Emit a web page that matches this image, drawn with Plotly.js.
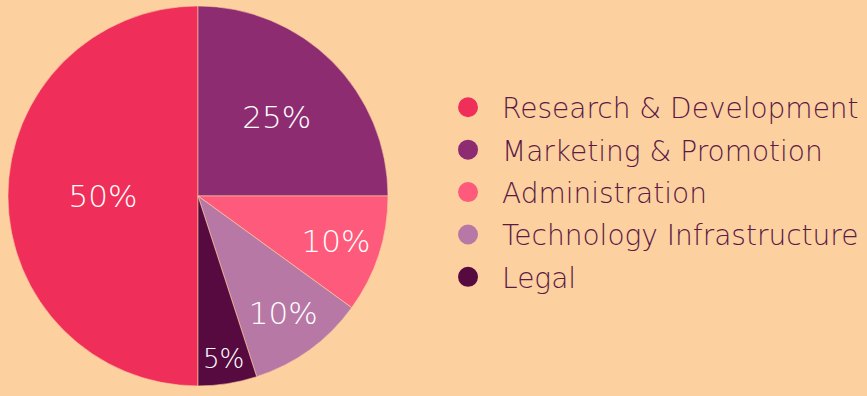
<!DOCTYPE html>
<html>
<head>
<meta charset="utf-8">
<script src="https://cdn.plot.ly/plotly-3.0.1.min.js"></script>
<style>html,body{margin:0;padding:0;background:#fdd0a0;}#chart{width:867px;height:396px;}</style>
</head>
<body>
<div id="chart"></div>
<script>
const labels = ["Research & Development", "Marketing & Promotion", "Administration", "Technology Infrastructure", "Legal"];
const values = [50, 25, 10, 10, 5];
const colors = ["#ef2f5a", "#8e2c72", "#fe5a7b", "#b878a6", "#570a40"];

const font = "'DejaVu Sans', sans-serif";

const pie = {
  type: "pie",
  labels: labels,
  values: values,
  sort: false,
  direction: "clockwise",
  rotation: 180,
  marker: {colors: colors, line: {color: "#fdd0a0", width: 0.6}},
  textinfo: "percent",
  texttemplate: "%{percent:.0%}",
  textposition: "inside",
  insidetextorientation: "horizontal",
  textfont: {family: font, size: 31, color: "#ffffff", weight: 200},
  hoverinfo: "label+percent",
  showlegend: false,
  domain: {x: [0.0092, 0.4475], y: [0.0253, 0.985]}
};

const legendTraces = labels.map((l, i) => ({
  type: "scatter",
  mode: "markers",
  x: [null], y: [null],
  name: l,
  legendgroup: "g" + i,
  marker: {color: colors[i], size: 16, symbol: "circle", line: {color: colors[i], width: 4}},
  showlegend: true,
  hoverinfo: "skip"
}));

const layout = {
  width: 867, height: 396,
  margin: {l: 0, r: 0, t: 0, b: 0},
  paper_bgcolor: "#fdd0a0",
  plot_bgcolor: "#fdd0a0",
  xaxis: {visible: false},
  yaxis: {visible: false},
  showlegend: true,
  legend: {
    x: 0.5006, y: 0.515, xanchor: "left", yanchor: "middle",
    font: {family: font, size: 28, color: "#5a1a45", weight: 200},
    itemwidth: 58,
    tracegroupgap: 3,
    traceorder: "grouped",
    bgcolor: "rgba(0,0,0,0)"
  }
};

Plotly.newPlot("chart", [pie, ...legendTraces], layout, {displayModeBar: false, staticPlot: true});
</script>
</body>
</html>
